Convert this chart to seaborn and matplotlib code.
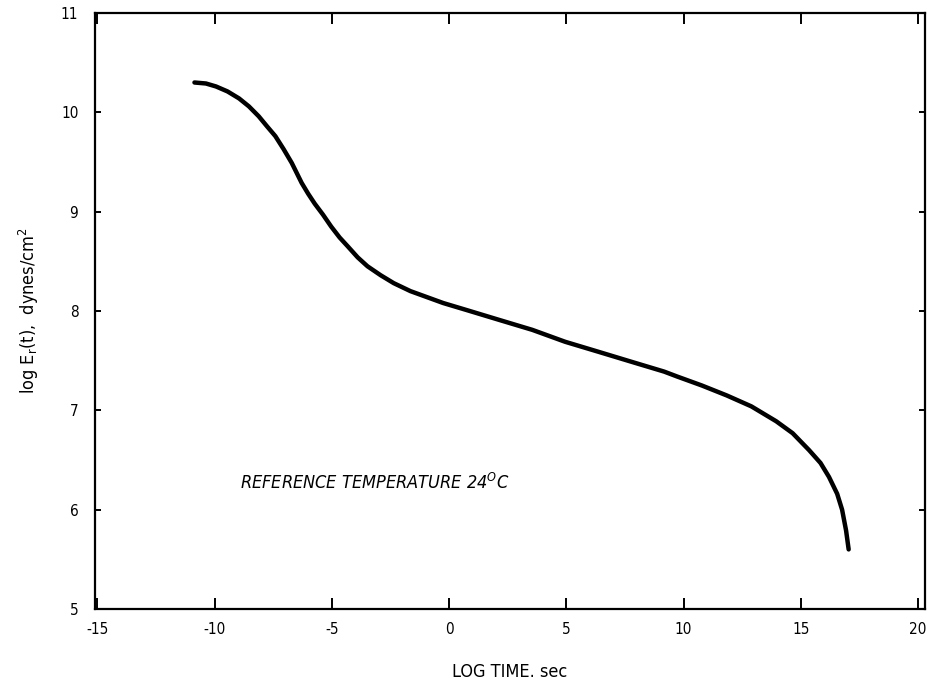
import matplotlib
matplotlib.use("Agg")
import matplotlib.pyplot as plt
import seaborn as sns
import pandas as pd

# Data
log_time = [-10.86, -10.37, -9.94, -9.45, -8.96, -8.54, -8.12, -7.77, -7.41, -7.06,
            -6.71, -6.50, -6.29, -6.01, -5.73, -5.38, -5.03, -4.67, -4.32, -3.90,
            -3.48, -2.92, -2.36, -1.65, -0.95, -0.25, 0.74, 2.14, 3.55, 4.95,
            6.36, 7.76, 9.17, 9.73, 10.78, 11.84, 12.89, 13.95, 14.65, 15.35,
            15.84, 16.20, 16.55, 16.76, 16.93, 17.04]
log_modulus = [10.30, 10.29, 10.26, 10.21, 10.14, 10.06, 9.96, 9.86, 9.76, 9.63,
               9.49, 9.39, 9.29, 9.18, 9.08, 8.97, 8.85, 8.74, 8.65, 8.54,
               8.45, 8.36, 8.28, 8.20, 8.14, 8.08, 8.01, 7.91, 7.81, 7.69,
               7.59, 7.49, 7.39, 7.34, 7.25, 7.15, 7.04, 6.89, 6.77, 6.60,
               6.47, 6.33, 6.16, 6.00, 5.79, 5.60]
x_ticks = [-15, -10, -5, 0, 5, 10, 15, 20]
y_ticks = [5, 6, 7, 8, 9, 10, 11]

sns.set_style("ticks")
plt.rcParams['font.family'] = ['DejaVu Sans']
plt.rcParams['font.stretch'] = 'condensed'
plt.rcParams['text.color'] = 'black'
plt.rcParams['axes.labelcolor'] = 'black'

df = pd.DataFrame({"log_time": log_time, "log_E": log_modulus})

fig = plt.figure(figsize=(9.29, 6.82), dpi=100)
ax = fig.add_axes([0.1023, 0.107, 0.8935, 0.874])

sns.lineplot(data=df, x="log_time", y="log_E", sort=False, color="black",
             linewidth=3.2, ax=ax, estimator=None, solid_capstyle="round",
             solid_joinstyle="round")

ax.set_xlim(-15.1, 20.3)
ax.set_ylim(5, 11)
ax.set_xticks(x_ticks)
ax.set_yticks(y_ticks)
ax.set_xticklabels([str(t) for t in x_ticks])
ax.set_yticklabels([str(t) for t in y_ticks])

for s in ax.spines.values():
    s.set_visible(True)
    s.set_linewidth(1.6)
    s.set_color("black")

ax.tick_params(axis="x", direction="in", length=8, width=1.4, top=True,
               labelsize=11, pad=9, colors="black")
ax.tick_params(axis="y", direction="in", length=4, width=1.4, right=True,
               labelsize=11, pad=12, colors="black")

ax.set_xlabel("LOG TIME. sec", fontsize=13, labelpad=19)
ax.set_ylabel(r"log E$_\mathregular{r}$(t),  dynes/cm$^\mathregular{2}$", fontsize=13, labelpad=14)

ax.text(-8.9, 6.27, r"REFERENCE TEMPERATURE 24$^\mathregular{O}$C", fontsize=13,
        style="italic", ha="left", va="center", color="black")

fig.savefig("out.png", dpi=100)
